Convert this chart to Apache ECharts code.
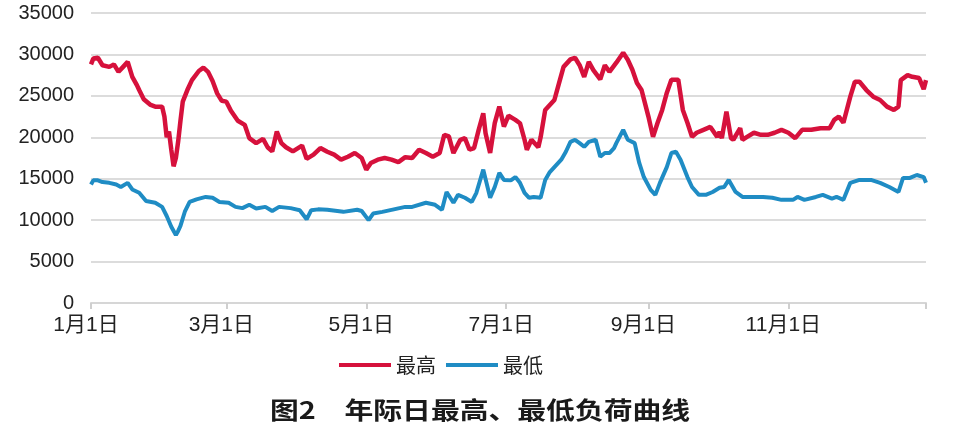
<!DOCTYPE html>
<html>
<head>
<meta charset="utf-8">
<script src="https://cdn.jsdelivr.net/npm/echarts@6/dist/echarts.min.js"></script>
<style>
html,body{margin:0;padding:0;background:#fff;}
#chart{width:961px;height:429px;}
</style>
</head>
<body>
<div id="chart"></div>
<script>
// month lengths for building the daily category axis (non-leap year)
const monthDays = [31,28,31,30,31,30,31,31,30,31,30,31];
// tick labels shown on the x axis
const tickLabels = ['1月1日','3月1日','5月1日','7月1日','9月1日','11月1日'];
const yTicks = [0,5000,10000,15000,20000,25000,30000,35000];
const seriesNames = ['最高','最低'];
const chartTitle = '图2　年际日最高、最低负荷曲线';

// [day-of-year index, load]
const maxLoad = [
[0,28800],[1,29500],[3,29600],[5,28700],[8,28500],[10,28800],[12,27900],[14,28500],[16,29100],[18,27300],
[20,26300],[21,25700],[23,24600],[26,23900],[28,23700],[31,23700],[32,22500],[33,20000],[34,20700],[35,18500],
[36,16500],[37,17500],[38,19500],[39,22000],[40,24300],[42,25700],[44,26900],[47,28000],[49,28400],[51,27900],
[53,26800],[55,25300],[57,24400],[59,24300],[61,23200],[64,22000],[67,21500],[69,19900],[72,19300],[75,19800],
[77,18800],[79,18300],[81,20700],[83,19300],[85,18800],[88,18300],[92,19000],[94,17400],[97,17900],[100,18700],
[103,18250],[106,17900],[109,17300],[112,17650],[115,18100],[118,17500],[120,16100],[122,16900],[125,17300],[128,17500],
[131,17300],[134,17000],[137,17600],[140,17500],[143,18500],[146,18100],[149,17650],[152,18100],[154,20300],[156,20100],
[158,18100],[161,19700],[163,19900],[165,18500],[167,18700],[169,20900],[171,22900],[172,20500],[174,18100],[176,21700],
[178,23700],[180,21300],[182,22600],[185,22100],[187,21700],[189,19700],[190,18500],[192,19700],[195,18800],[196,20000],
[198,23300],[200,23900],[202,24500],[204,26500],[206,28500],[209,29400],[211,29600],[213,28700],[215,27300],[217,29100],
[219,28100],[222,27000],[224,28700],[226,27900],[229,29000],[232,30200],[234,29350],[236,28150],[238,26550],[240,25700],
[243,22500],[245,20050],[247,21750],[249,23300],[251,25350],[253,26950],[256,26950],[258,23300],[260,21750],[262,20050],
[264,20550],[267,20900],[270,21250],[273,20050],[274,20650],[275,19900],[277,23100],[279,19900],[280,19700],[283,21100],
[284,19700],[286,20050],[289,20550],[292,20300],[295,20300],[298,20550],[301,20900],[304,20550],[307,19900],[310,20900],
[314,20900],[318,21100],[322,21100],[324,22100],[326,22500],[328,21750],[331,24900],[333,26700],[335,26700],[338,25700],
[341,24900],[344,24500],[347,23700],[350,23300],[352,23700],[353,26900],[356,27500],[358,27300],[361,27150],[363,25800],
[364,26900]
];
const minLoad = [
[0,14300],[1,14800],[3,14800],[5,14600],[8,14500],[11,14300],[13,14000],[16,14500],[18,13700],[21,13300],
[24,12300],[28,12100],[31,11600],[33,10500],[35,9200],[37,8200],[38,8700],[39,9300],[41,11100],[43,12200],
[46,12500],[50,12800],[53,12700],[56,12200],[60,12100],[63,11600],[66,11450],[69,11850],[72,11400],[76,11600],
[79,11100],[82,11600],[87,11450],[91,11200],[94,10100],[96,11200],[99,11300],[103,11250],[110,11000],[116,11250],
[118,11100],[121,10000],[123,10800],[127,11000],[132,11300],[137,11600],[140,11600],[146,12100],[150,11850],[153,11250],
[155,13400],[158,12100],[160,13050],[163,12700],[166,12200],[168,13300],[171,16100],[174,12700],[176,14000],[178,15700],
[180,14850],[183,14800],[185,15200],[187,14500],[189,13300],[191,12700],[193,12800],[196,12700],[198,14850],[200,15800],
[202,16400],[205,17300],[207,18250],[209,19450],[211,19700],[213,19300],[215,18850],[217,19450],[220,19700],[222,17650],
[224,18100],[226,18100],[228,18700],[229,19300],[232,20900],[234,19700],[237,19300],[239,16900],[241,15200],[244,13650],
[246,13050],[248,14500],[251,16400],[253,18100],[255,18250],[257,17300],[260,15200],[262,14000],[265,13050],[268,13050],
[271,13400],[274,13900],[276,14000],[278,14850],[281,13400],[284,12800],[288,12800],[293,12800],[297,12700],[301,12450],
[306,12450],[308,12800],[311,12450],[316,12800],[319,13050],[323,12600],[325,12800],[328,12450],[331,14500],[335,14850],
[340,14850],[344,14500],[348,14000],[352,13400],[354,15100],[357,15100],[360,15450],[363,15200],[364,14500]
];

const days = [];
monthDays.forEach((n, m) => { for (let d = 1; d <= n; d++) days.push((m + 1) + '月' + d + '日'); });
const lastIndex = days.length - 1;

const chart = echarts.init(document.getElementById('chart'), null, {renderer: 'canvas'});
const labelFont = '"Liberation Sans", "Noto Sans CJK SC", sans-serif';
chart.setOption({
  animation: false,
  backgroundColor: '#ffffff',
  graphic: [{
    type: 'text',
    x: 480,
    y: 410,
    scaleX: 1.2,
    style: {
      text: chartTitle,
      align: 'center',
      verticalAlign: 'middle',
      fill: '#1a1a1a',
      font: 'bold 24px "Noto Sans CJK SC", sans-serif'
    }
  }],
  legend: {
    data: seriesNames,
    left: 334,
    top: 350,
    icon: 'rect',
    itemWidth: 52,
    itemHeight: 4,
    itemGap: 10,
    textStyle: {fontSize: 20, color: '#222', fontFamily: '"Noto Sans CJK SC", sans-serif'}
  },
  grid: {left: 91, right: 35, top: 13, bottom: 126, containLabel: false},
  xAxis: {
    type: 'category',
    data: days,
    boundaryGap: false,
    axisLine: {show: true, lineStyle: {color: '#d6d6d6', width: 2}},
    axisTick: {
      show: true, length: 6, inside: false,
      lineStyle: {color: '#cfcfcf', width: 2},
      interval: (i, v) => tickLabels.indexOf(v) >= 0 || i === lastIndex
    },
    axisLabel: {
      interval: (i, v) => tickLabels.indexOf(v) >= 0,
      margin: 12,
      fontSize: 21,
      color: '#222',
      fontFamily: labelFont,
      padding: [0, 10, 0, 0]
    },
    splitLine: {show: false}
  },
  yAxis: {
    type: 'value',
    min: yTicks[0],
    max: yTicks[yTicks.length - 1],
    interval: 5000,
    axisLine: {show: false},
    axisTick: {show: false},
    axisLabel: {fontSize: 20, color: '#222', margin: 17, fontFamily: labelFont, formatter: v => String(v)},
    splitLine: {lineStyle: {color: '#dcdcdc', width: 2}}
  },
  series: [
    {
      name: seriesNames[0], type: 'line', data: maxLoad, showSymbol: false, symbol: 'none',
      lineStyle: {color: '#d6113c', width: 4.5}, itemStyle: {color: '#d6113c'}
    },
    {
      name: seriesNames[1], type: 'line', data: minLoad, showSymbol: false, symbol: 'none',
      lineStyle: {color: '#1f8cc4', width: 4}, itemStyle: {color: '#1f8cc4'}
    }
  ]
});
</script>
</body>
</html>
